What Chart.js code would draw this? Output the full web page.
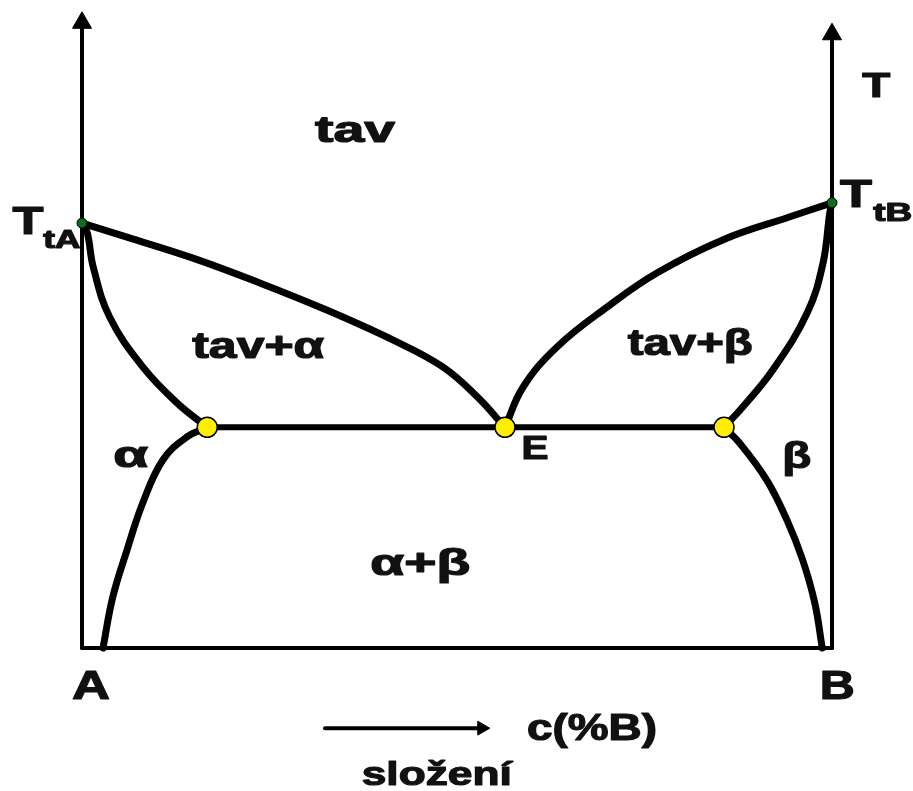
<!DOCTYPE html>
<html lang="cs">
<head>
    <meta charset="UTF-8">
    <title>Fázový diagram – eutektikum</title>
    <script src="https://cdn.jsdelivr.net/npm/chart.js@4.4.1/dist/chart.umd.min.js"></script>
    <style>
        body { margin: 0; background: #fff; overflow: hidden; }
        canvas { display: block; }
    </style>
</head>
<body>
    <canvas id="phaseChart" width="913" height="791"></canvas>
    <script>
        // composition x = %B (0 = A, 100 = B), temperature y in arbitrary units (0..100)
        var meltA = [0, 66.8];      // T_tA
        var meltB = [100, 70.0];    // T_tB
        var eutecticT = 34.7;
        var eutecticX = [16.7, 56.4, 85.6];   // alpha limit, E, beta limit

        var liquidusA = [[0, 66.8], [6.0, 64.6], [14.8, 61.3], [23.7, 57.4], [32.7, 53.1], [41.5, 48.4], [48.1, 44.2], [52.7, 39.5], [56.4, 34.7]];
        var liquidusB = [[56.4, 34.7], [58.8, 41.0], [63.3, 47.3], [70.0, 53.6], [76.7, 59.0], [85.5, 64.2], [94.4, 67.8], [100, 70.0]];
        var solidusA = [[0, 66.8], [0.7, 65.3], [1.5, 59.9], [3.7, 52.0], [8.1, 44.2], [12.7, 38.5], [16.7, 34.7]];
        var solidusB = [[100, 70.0], [99.7, 68.4], [98.8, 60.5], [96.7, 52.7], [92.1, 43.7], [88.1, 37.9], [85.6, 34.7]];
        var solvusA = [[16.7, 34.7], [14.0, 33.2], [10.8, 29.6], [8.1, 22.8], [6.0, 15.4], [4.1, 8.0], [2.8, 0]];
        var solvusB = [[85.6, 34.7], [87.7, 32.2], [91.3, 26.4], [94.0, 20.1], [96.1, 13.8], [97.7, 7.1], [98.7, 0]];

        var axisTopA = 98.3;
        var axisTopB = 96.5;
        var compArrow = [[32.4, -12.6], [53.3, -12.6]];

        // text labels, placed in the same data units
        var labels = [
            { text: 'tav', x: 36.4, y: 81.1, size: 36, w: 80 },
            { text: 'tav+α', x: 23.5, y: 47.2, size: 36, w: 132 },
            { text: 'tav+β', x: 81.1, y: 47.6, size: 36, w: 125 },
            { text: 'α', x: 6.5, y: 30.0, size: 36, w: 35 },
            { text: 'β', x: 95.3, y: 29.9, size: 36, w: 29 },
            { text: 'α+β', x: 45.1, y: 13.1, size: 36, w: 100 },
            { text: 'E', x: 60.4, y: 31.1, size: 33, w: 27 },
            { text: 'T', x: 105.9, y: 88.1, size: 35, w: 28 },
            { text: 'A', x: 1.2, y: -6.3, size: 40, w: 38 },
            { text: 'B', x: 100.7, y: -6.3, size: 40, w: 35 },
            { text: 'c(%B)', x: 68.0, y: -12.9, size: 36, w: 130 },
            { text: 'složení', x: 47.3, y: -20.1, size: 34, w: 150 },
            { text: 'T', x: -7.2, y: 66.7, size: 38, w: 31 },
            { text: 'tA', x: -2.7, y: 64.0, size: 25, w: 37 },
            { text: 'T', x: 103.2, y: 71.0, size: 38, w: 32 },
            { text: 'tB', x: 108.1, y: 68.3, size: 25, w: 39 }
        ];

        function pts(arr) {
            return arr.map(function(p) { return { x: p[0], y: p[1] }; });
        }

        function curve(arr, width) {
            return {
                data: pts(arr), showLine: true, borderColor: '#000', borderWidth: width || 7,
                tension: 0.4, pointRadius: 0, clip: false,
                borderCapStyle: 'round', borderJoinStyle: 'round'
            };
        }

        var labelPlugin = {
            id: 'phaseLabels',
            afterDatasetsDraw: function(chart) {
                var ctx = chart.ctx;
                var xs = chart.scales.x, ys = chart.scales.y;
                labels.forEach(function(l) {
                    ctx.save();
                    ctx.font = 'bold ' + l.size + 'px "Liberation Sans", Arial, sans-serif';
                    var sx = l.w / ctx.measureText(l.text).width;
                    ctx.translate(xs.getPixelForValue(l.x), ys.getPixelForValue(l.y));
                    ctx.scale(sx, 1);
                    ctx.textAlign = 'center';
                    ctx.textBaseline = 'middle';
                    ctx.fillStyle = '#111';
                    ctx.strokeStyle = '#111';
                    ctx.lineWidth = 1.2;
                    ctx.lineJoin = 'round';
                    ctx.fillText(l.text, 0, 0);
                    ctx.strokeText(l.text, 0, 0);
                    ctx.restore();
                });
            }
        };

        // Chart.js paints dataset 0 last, so the markers go first
        var datasets = [
            {
                data: pts([meltA, meltB]), pointStyle: 'circle', pointRadius: 5,
                backgroundColor: '#0b6b1e', borderColor: '#000', borderWidth: 1, clip: false
            },
            {
                data: eutecticX.map(function(x) { return { x: x, y: eutecticT }; }),
                pointStyle: 'circle', pointRadius: 10, backgroundColor: '#ffee00',
                borderColor: '#000', borderWidth: 1.5, clip: false
            },
            {
                data: pts([[0, axisTopA], [100, axisTopB]]), pointStyle: 'triangle', pointRadius: 11,
                backgroundColor: '#000', borderColor: '#000', borderWidth: 1, clip: false
            },
            {
                data: pts([compArrow[1]]), pointStyle: 'triangle', rotation: 90, pointRadius: 8,
                backgroundColor: '#000', borderColor: '#000', borderWidth: 1, clip: false
            },
            // phase boundaries
            curve(liquidusA), curve(liquidusB),
            curve(solidusA), curve(solidusB),
            curve(solvusA), curve(solvusB),
            curve([[eutecticX[0], eutecticT], [eutecticX[2], eutecticT]], 6),
            // axes
            curve([[0, 0], [0, axisTopA]], 4),
            curve([[100, 0], [100, axisTopB]], 4),
            curve([[0, 0], [100, 0]], 4),
            curve(compArrow, 4)
        ];

        new Chart(document.getElementById('phaseChart').getContext('2d'), {
            type: 'scatter',
            data: { datasets: datasets },
            options: {
                responsive: false,
                animation: false,
                layout: { autoPadding: false, padding: { left: 82, right: 81, top: 12, bottom: 0 } },
                plugins: { legend: { display: false }, tooltip: { enabled: false } },
                scales: {
                    x: { type: 'linear', min: 0, max: 100, bounds: 'data', display: false },
                    y: { type: 'linear', min: -22.48, max: 100, bounds: 'data', display: false }
                }
            },
            plugins: [labelPlugin]
        });
    </script>
</body>
</html>
